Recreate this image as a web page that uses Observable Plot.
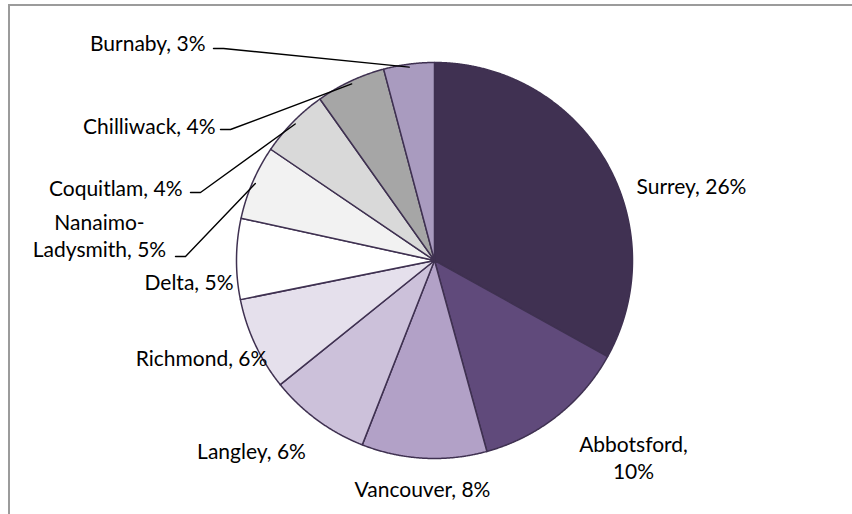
<!DOCTYPE html>
<html><head><meta charset="utf-8">
<script src="https://cdn.jsdelivr.net/npm/d3@7"></script>
<script src="https://cdn.jsdelivr.net/npm/@observablehq/plot@0.6"></script>
<style>
html,body{margin:0;padding:0;background:#fff;}
#chart{position:relative;width:852px;height:514px;overflow:hidden;}
#frame{position:absolute;left:8px;top:4px;width:900px;height:600px;border-left:2px solid #9b9b9b;border-top:2px solid #9b9b9b;pointer-events:none;}
#chart svg{position:absolute;left:0;top:0;}
</style></head><body><div id="chart"><div id="frame"></div></div>
<script>
// ---- data ----
const cities = ["Surrey","Abbotsford","Vancouver","Langley","Richmond","Delta","Nanaimo-Ladysmith","Coquitlam","Chilliwack","Burnaby"];
const shares = [25.6, 9.8, 7.9, 6.4, 5.9, 5.1, 4.7, 4.4, 4.4, 3.2];
const labels = ["Surrey, 26%","Abbotsford,\n10%","Vancouver, 8%","Langley, 6%","Richmond, 6%","Delta, 5%","Nanaimo-\nLadysmith, 5%","Coquitlam, 4%","Chilliwack, 4%","Burnaby, 3%"];
const colors = ["#403152","#604a7b","#b2a1c7","#ccc1da","#e5e0ec","#ffffff","#f2f2f2","#d9d9d9","#a6a6a6","#a99bbf"];

// ---- layout (pixels) ----
const W = 852, H = 514, CX = 434, CY = 260, R = 198;
const labelLayout = [
  {x: 636, y: 185, anchor: "start"},
  {x: 633, y: 456, anchor: "middle"},
  {x: 422, y: 488, anchor: "middle"},
  {x: 251, y: 450, anchor: "middle"},
  {x: 201, y: 357, anchor: "middle"},
  {x: 233, y: 281, anchor: "end"},
  {x: 99,  y: 234, anchor: "middle", lx: 175, ly: 256},
  {x: 182, y: 187, anchor: "end", lx: 190, ly: 192},
  {x: 215, y: 125, anchor: "end", lx: 220, ly: 129},
  {x: 205, y: 42,  anchor: "end", lx: 213, ly: 48}
];

const font = "Lato, 'Open Sans', sans-serif";
const fontSize = 21;

const arcs = d3.pie().sort(null).value(d => d)(shares);
const px = x => x - CX;          // pixel -> data x
const py = y => CY - y;          // pixel -> data y

const slicePts = [];
arcs.forEach((a, i) => {
  slicePts.push({i, x: 0, y: 0});
  const n = Math.max(2, Math.ceil((a.endAngle - a.startAngle) / (Math.PI / 720)));
  for (let k = 0; k <= n; k++) {
    const t = a.startAngle + (a.endAngle - a.startAngle) * k / n;
    slicePts.push({i, x: R * Math.sin(t), y: R * Math.cos(t)});
  }
  slicePts.push({i, x: 0, y: 0});
});

const leaderPts = [];
arcs.forEach((a, i) => {
  const L = labelLayout[i];
  if (L.lx == null) return;
  const m = (a.startAngle + a.endAngle) / 2;
  leaderPts.push({i, x: px(L.lx), y: py(L.ly)});
  leaderPts.push({i, x: px(L.lx + 10), y: py(L.ly)});
  leaderPts.push({i, x: R * 0.985 * Math.sin(m), y: R * 0.985 * Math.cos(m)});
});

const textData = labels.map((t, i) => ({t, i, x: px(labelLayout[i].x), y: py(labelLayout[i].y), anchor: labelLayout[i].anchor}));
const anchors = ["start", "middle", "end"];

const plot = Plot.plot({
  width: W, height: H,
  margin: 0,
  x: {domain: [-CX, W - CX], axis: null},
  y: {domain: [CY - H, CY], axis: null},
  marks: [
    Plot.line(slicePts, {x: "x", y: "y", z: "i", fill: d => colors[d.i], stroke: "#3f3151", strokeWidth: 1.5, strokeLinejoin: "round", curve: "linear"}),
    Plot.line(leaderPts, {x: "x", y: "y", z: "i", stroke: "#000", strokeWidth: 1.4}),
    ...anchors.map(an => Plot.text(textData.filter(d => d.anchor === an), {
      x: "x", y: "y", text: "t", textAnchor: an, lineAnchor: "middle",
      fontSize, fontFamily: font, fill: "#000", lineHeight: 1.28
    }))
  ]
});
plot.style.fontFamily = font;
document.getElementById("chart").prepend(plot);
</script>
</body></html>
